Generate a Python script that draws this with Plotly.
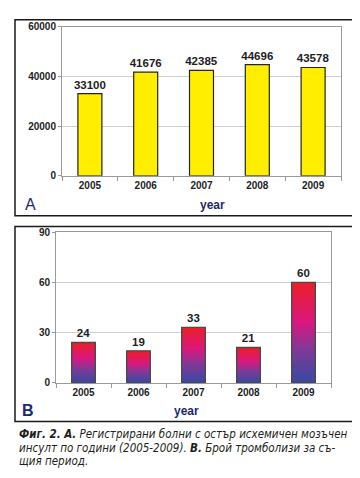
import plotly.graph_objects as go
import numpy as np

years = ["2005", "2006", "2007", "2008", "2009"]
patients = [33100, 41676, 42385, 44696, 43578]
thrombolyses = [24, 19, 33, 21, 60]
caption_lines = [
    "<b>Фиг. 2. А.</b> Регистрирани болни с остър исхемичен мозъчен",
    "инсулт по години (2005-2009). <b>В.</b> Брой тромболизи за съ-",
    "щия период.",
]

W, H = 360, 478
def px(x): return x / W
def py(y): return 1 - y / H

FONT = "Liberation Sans"
TXT = "#1e1e1e"

fig = go.Figure()

# Panel A
fig.add_trace(go.Bar(
    x=years, y=patients, xaxis="x", yaxis="y",
    marker=dict(color="#FFEE00", line=dict(color="#222222", width=1.2)),
    text=[str(v) for v in patients], textposition="outside", constraintext="none",
    textfont=dict(family=FONT, size=11.5, color=TXT, weight="bold"),
    cliponaxis=False, width=0.43, showlegend=False,
))

# Panel B: gradient bars built as overlaid, shrinking fractions of each value
N = 48
stops = [(0.0, (56, 74, 162)), (0.33, (128, 58, 150)), (0.6, (218, 24, 128)), (1.0, (236, 30, 38))]
def col(t):
    for (t0, c0), (t1, c1) in zip(stops[:-1], stops[1:]):
        if t <= t1:
            f = (t - t0) / (t1 - t0)
            return "rgb(%d,%d,%d)" % tuple(round(a + (b - a) * f) for a, b in zip(c0, c1))
    return "rgb(%d,%d,%d)" % stops[-1][1]

vals = np.array(thrombolyses, dtype=float)
for i in range(N, 0, -1):
    fig.add_trace(go.Bar(
        x=years, y=vals * i / N, xaxis="x2", yaxis="y2",
        marker=dict(color=col((i - 0.5) / N), line=dict(width=0)),
        width=0.43, showlegend=False, hoverinfo="skip",
    ))
fig.add_trace(go.Bar(
    x=years, y=thrombolyses, xaxis="x2", yaxis="y2",
    marker=dict(color="rgba(0,0,0,0)", line=dict(color="#4a4a4a", width=1.3)),
    text=[str(v) for v in thrombolyses], textposition="outside", constraintext="none",
    textfont=dict(family=FONT, size=11.5, color=TXT, weight="bold"),
    cliponaxis=False, width=0.43, showlegend=False,
))

axis_common = dict(
    showline=True, linecolor="#9a9a9a", linewidth=1, mirror=True,
    tickfont=dict(family=FONT, size=10, color=TXT, weight="bold"),
)
fig.update_layout(
    width=W, height=H, margin=dict(l=0, r=0, t=0, b=0),
    paper_bgcolor="white", plot_bgcolor="white", barmode="overlay",
    xaxis=dict(domain=[px(54), px(333)], anchor="y", type="category",
               ticks="outside", tickson="boundaries", ticklen=4, tickcolor="#9a9a9a",
               **axis_common),
    yaxis=dict(domain=[py(166), py(13)], anchor="x", range=[0, 60000], dtick=20000,
               tickformat="d",
               showgrid=True, gridcolor="#cfcfcf", ticks="outside", ticklen=3,
               tickcolor="#9a9a9a", zeroline=False, **axis_common),
    xaxis2=dict(domain=[px(48), px(323)], anchor="y2", type="category",
                ticks="outside", tickson="boundaries", ticklen=4, tickcolor="#9a9a9a",
                **axis_common),
    yaxis2=dict(domain=[py(378), py(224)], anchor="x2", range=[0, 90], dtick=30,
                showgrid=True, gridcolor="#cfcfcf", ticks="outside", ticklen=3,
                tickcolor="#9a9a9a", zeroline=False, **axis_common),
    font=dict(family=FONT),
)

shapes = []
for (x0, y0, x1, y1) in [(7, 6, 350, 207), (7, 218, 350, 418)]:
    shapes.append(dict(type="rect", xref="paper", yref="paper",
                       x0=px(x0), x1=px(x1), y0=py(y1), y1=py(y0),
                       line=dict(color="#1a1a1a", width=1.5)))
fig.update_layout(shapes=shapes)

ann = []
ann.append(dict(text="A", x=px(15), y=py(195), xref="paper", yref="paper", xanchor="left",
                yanchor="middle", showarrow=False,
                font=dict(family=FONT, size=16, color="#1b2a6e")))
ann.append(dict(text="year", x=px(204), y=py(196), xref="paper", yref="paper",
                xanchor="center", yanchor="middle", showarrow=False,
                font=dict(family=FONT, size=12, color="#1b2a6e", weight="bold")))
ann.append(dict(text="B", x=px(12), y=py(407), xref="paper", yref="paper", xanchor="left",
                yanchor="middle", showarrow=False,
                font=dict(family=FONT, size=16, color="#1b2a6e", weight="bold")))
ann.append(dict(text="year", x=px(178), y=py(407), xref="paper", yref="paper",
                xanchor="center", yanchor="middle", showarrow=False,
                font=dict(family=FONT, size=12, color="#1b2a6e", weight="bold")))
for k, line in enumerate(caption_lines):
    ann.append(dict(text="<i>" + line + "</i>", x=px(9), y=py(431 + 14 * k),
                    xref="paper", yref="paper", xanchor="left", yanchor="middle",
                    showarrow=False,
                    font=dict(family="DejaVu Sans Condensed", size=11.5, color="#231f20")))
fig.update_layout(annotations=ann)

fig.write_html("out.html")
